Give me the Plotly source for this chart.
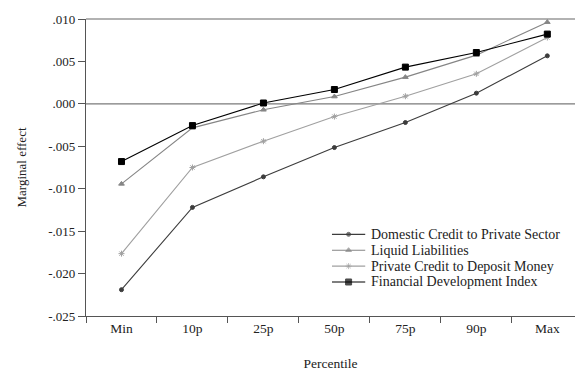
import plotly.graph_objects as go

percentiles = ["Min", "10p", "25p", "50p", "75p", "90p", "Max"]

domestic_credit = [-0.0219, -0.0122, -0.0086, -0.00515, -0.0022, 0.00126, 0.00566]
liquid_liabilities = [-0.00943, -0.00283, -0.0007, 0.00086, 0.00315, 0.00574, 0.00963]
private_credit_deposit = [-0.01765, -0.0075, -0.0044, -0.0015, 0.0009, 0.00354, 0.00782]
fin_dev_index = [-0.0068, -0.00256, 0.0001, 0.00169, 0.00433, 0.00605, 0.00822]

y_ticks = [0.010, 0.005, 0.000, -0.005, -0.010, -0.015, -0.020, -0.025]
y_tick_text = [".010", ".005", ".000", "-.005", "-.010", "-.015", "-.020", "-.025"]

serif = "Liberation Serif"
text_color = "#222222"
axis_color = "#555555"

series = [
    ("Domestic Credit to Private Sector", domestic_credit, "#3c3c3c", "circle", 4),
    ("Liquid Liabilities", liquid_liabilities, "#858585", "triangle-up", 5),
    ("Private Credit to Deposit Money", private_credit_deposit, "#a0a0a0", "asterisk-open", 5),
    ("Financial Development Index", fin_dev_index, "#000000", "square", 6),
]

fig = go.Figure()
for name, vals, color, sym, size in series:
    fig.add_trace(go.Scatter(
        x=percentiles, y=vals, name=name, mode="lines+markers",
        line=dict(color=color, width=1.1),
        marker=dict(symbol=sym, size=size, color=color, line=dict(color=color, width=1)),
        showlegend=False,
    ))

# Compact hand-built legend on an overlay axis spanning the plot area (0..1 both ways)
leg_x0, leg_x1, leg_text_x = 0.503, 0.571, 0.579
leg_top, leg_step = 0.275, 0.0535
for i, (name, vals, color, sym, size) in enumerate(series):
    yy = leg_top - i * leg_step
    fig.add_trace(go.Scatter(
        x=[leg_x0, (leg_x0 + leg_x1) / 2, leg_x1], y=[yy, yy, yy],
        xaxis="x2", yaxis="y2", mode="lines+markers", showlegend=False, hoverinfo="skip",
        line=dict(color=color, width=1.1),
        marker=dict(symbol=sym, size=[0, size, 0], color=color, line=dict(color=color, width=1)),
    ))
    fig.add_annotation(x=leg_text_x, y=yy, xref="x2", yref="y2", text=name, showarrow=False,
                       xanchor="left", yanchor="middle",
                       font=dict(family=serif, size=14, color=text_color))

# horizontal reference line at zero
fig.add_shape(type="line", xref="paper", x0=0, x1=1, yref="y", y0=0, y1=0,
              line=dict(color="#7a7a7a", width=1.2), layer="below")
# top frame line
fig.add_shape(type="line", xref="paper", x0=0, x1=1, yref="paper", y0=1, y1=1,
              line=dict(color="#666666", width=1.2))

fig.update_layout(
    width=575, height=371,
    margin=dict(l=86, r=0, t=19, b=55),
    paper_bgcolor="white", plot_bgcolor="white",
    font=dict(family=serif, color=text_color, size=13),
    showlegend=False,
    xaxis=dict(
        type="category", tickson="boundaries",
        range=[-0.5, 6.39], showgrid=False, zeroline=False,
        showline=True, linecolor=axis_color, linewidth=1.2,
        ticks="outside", ticklen=6, tickcolor=axis_color,
        tickfont=dict(family=serif, size=13.5, color=text_color),
        title=dict(text="Percentile", font=dict(family=serif, size=13.5, color=text_color), standoff=25),
    ),
    yaxis=dict(
        range=[-0.025, 0.010], tickvals=y_ticks, ticktext=y_tick_text,
        showgrid=False, zeroline=False,
        showline=True, linecolor=axis_color, linewidth=1.2,
        ticks="outside", ticklen=7, tickcolor=axis_color,
        tickfont=dict(family=serif, size=13, color=text_color),
        title=dict(text="Marginal effect", font=dict(family=serif, size=13, color=text_color), standoff=18),
    ),
    xaxis2=dict(overlaying="x", range=[0, 1], visible=False, anchor="y2"),
    yaxis2=dict(overlaying="y", range=[0, 1], visible=False, anchor="x2"),
)

fig.write_html("out.html")
